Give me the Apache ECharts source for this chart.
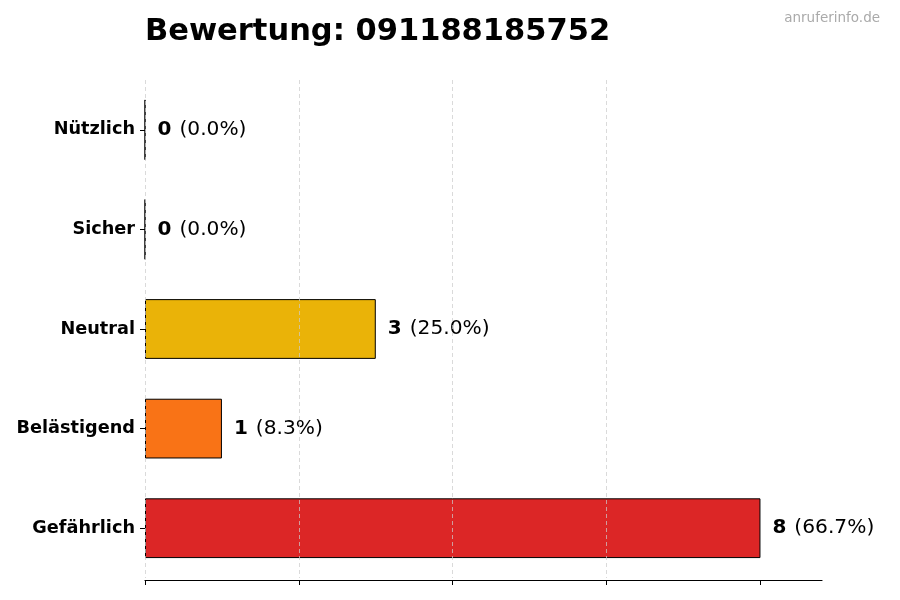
<!DOCTYPE html>
<html>
<head>
<meta charset="utf-8">
<script src="https://cdn.jsdelivr.net/npm/echarts@6/dist/echarts.min.js"></script>
<style>html,body{margin:0;padding:0;background:#fff}#c{width:900px;height:600px}</style>
</head>
<body>
<div id="c"></div>
<script>
const titleText = 'Bewertung: 091188185752';
const watermark = 'anruferinfo.de';
const categories = ['Gefährlich', 'Belästigend', 'Neutral', 'Sicher', 'Nützlich'];
const counts = [8, 1, 3, 0, 0];
const percents = ['66.7%', '8.3%', '25.0%', '0.0%', '0.0%'];
const colors = ['#dc2626', '#f97316', '#eab308', '#22c55e', '#16a34a'];
const xTicks = [0, 2, 4, 6, 8];

const FONT = 'DejaVu Sans';
const chart = echarts.init(document.getElementById('c'), null, {renderer: 'canvas'});
chart.setOption({
  backgroundColor: '#ffffff',
  animation: false,
  textStyle: {fontFamily: FONT},
  title: [
    {text: titleText, left: 140, top: 12,
     textStyle: {fontFamily: FONT, fontSize: 30.5, fontWeight: 'bold', color: '#000'}},
    {text: watermark, right: 15, top: 6,
     textStyle: {fontFamily: FONT, fontSize: 13.5, fontWeight: 'normal', color: '#aaaaaa'}}
  ],
  grid: {left: 145, right: 78, top: 80, bottom: 22, containLabel: false},
  xAxis: {
    type: 'value', min: 0, max: 8.8, interval: 2, z: 10, offset: 2,
    axisLine: {show: true, lineStyle: {color: '#000', width: 1.2}},
    axisTick: {show: true, length: 5, inside: false, customValues: xTicks, lineStyle: {color: '#000', width: 1}},
    axisLabel: {show: false},
    splitLine: {show: true, showMaxLine: false, lineStyle: {color: '#cccccc', type: [4, 3], width: 0.8, opacity: 0.9}}
  },
  yAxis: {
    type: 'category', data: categories,
    axisLine: {show: false},
    axisTick: {show: true, length: 5, alignWithLabel: true, lineStyle: {color: '#000'}},
    axisLabel: {margin: 10, fontFamily: FONT, fontSize: 17.7, fontWeight: 'bold', color: '#000'}
  },
  series: [{
    type: 'bar',
    barWidth: '60%',
    data: counts.map((v, i) => ({value: v, itemStyle: {color: colors[i]}})),
    itemStyle: {borderColor: '#000', borderWidth: 1},
    label: {
      show: true, position: 'right', distance: 12,
      formatter: p => '{b|' + counts[p.dataIndex] + '}{n|(' + percents[p.dataIndex] + ')}',
      rich: {
        b: {fontFamily: FONT, fontSize: 20, fontWeight: 'bold', color: '#000'},
        n: {fontFamily: FONT, fontSize: 20.2, fontWeight: 'normal', color: '#000', padding: [0, 0, 0, 8]}
      }
    }
  }]
});
</script>
</body>
</html>
